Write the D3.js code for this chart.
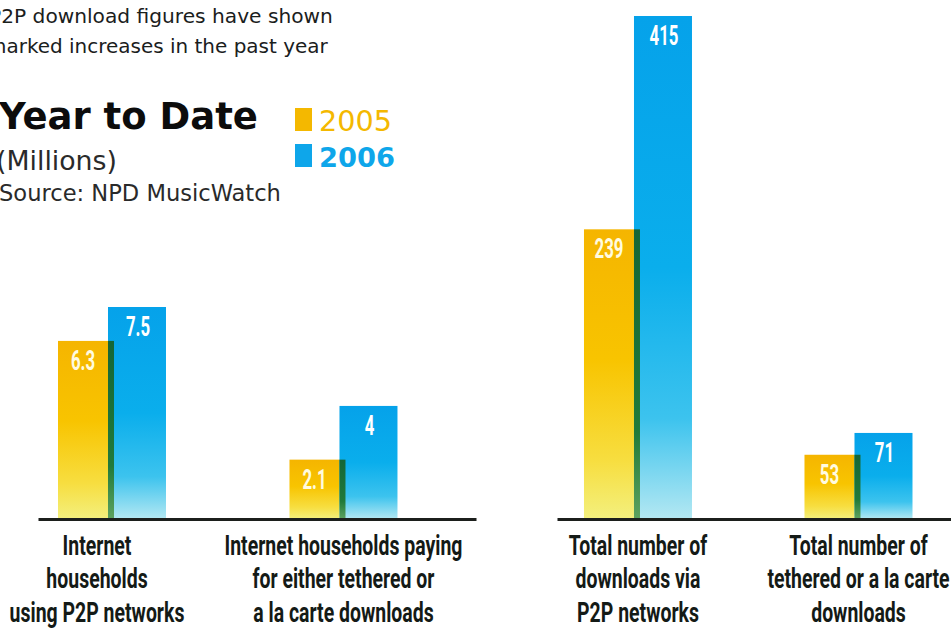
<!DOCTYPE html>
<html>
<head>
<meta charset="utf-8">
<script src="https://cdn.jsdelivr.net/npm/d3@7"></script>
<style>
  html, body { margin: 0; padding: 0; background: #fff; }
  svg { display: block; }
</style>
</head>
<body>
<svg id="chart" width="951" height="629"></svg>
<script>
// ---- data ----
const seriesNames = ["2005", "2006"];

const householdCategories = [
  "Internet\nhouseholds\nusing P2P networks",
  "Internet households paying\nfor either tethered or\na la carte downloads"
];
const households2005 = [6.3, 2.1];
const households2006 = [7.5, 4];

const downloadCategories = [
  "Total number of\ndownloads via\nP2P networks",
  "Total number of\ntethered or a la carte\ndownloads"
];
const downloads2005 = [239, 53];
const downloads2006 = [415, 71];

const introLines = ["P2P download figures have shown", "marked increases in the past year"];
const titleText = "Year to Date";
const unitText = "(Millions)";
const sourceText = "Source: NPD MusicWatch";

// ---- layout ----
const svg = d3.select("#chart");
const baseline = 519;
const narrowFace = "Roboto, 'Liberation Sans', sans-serif";   // squeezed horizontally below
const geometric = "'DejaVu Sans', 'Noto Sans', sans-serif";
const catSqueeze = 0.695;
const valSqueeze = 0.6;

const seriesColor = { "2005": "#f4b800", "2006": "#0ea6ea" };

// size a text so that it spans the given width
function fitWidth(sel, w) {
  const len = sel.node().getComputedTextLength();
  sel.attr("font-size", +sel.attr("font-size") * w / len);
  return sel;
}

// gradients for the bars
const defs = svg.append("defs");
function vGrad(id, stops) {
  const g = defs.append("linearGradient").attr("id", id)
    .attr("x1", 0).attr("y1", 0).attr("x2", 0).attr("y2", 1);
  stops.forEach(([o, c]) => g.append("stop").attr("offset", o).attr("stop-color", c));
}
vGrad("grad2005", [[0, "#f5b500"], [0.45, "#f8c400"], [0.8, "#f7de40"], [1, "#f3f07e"]]);
vGrad("grad2006", [[0, "#05a2ea"], [0.5, "#0aaeec"], [0.8, "#3cc3ee"], [1, "#b4e8f2"]]);
vGrad("gradOverlap", [[0, "#156636"], [0.7, "#217a3a"], [1, "#5da25f"]]);

const panels = [
  { categories: householdCategories, values: [households2005, households2006],
    xRange: [38, 476], paddingInner: 0.5335, paddingOuter: 0.2128, align: 0.203,
    topY: 307, labelNudge: [-15, 0] },
  { categories: downloadCategories, values: [downloads2005, downloads2006],
    xRange: [557, 951], paddingInner: 0.5102, paddingOuter: 0.1485, align: 0.412,
    topY: 16, labelNudge: [0, 0] }
];

panels.forEach(p => {
  const x = d3.scaleBand()
    .domain(p.categories)
    .range(p.xRange)
    .paddingInner(p.paddingInner)
    .paddingOuter(p.paddingOuter)
    .align(p.align);
  const xs = d3.scaleBand().domain(seriesNames).range([0, x.bandwidth()]);
  const maxVal = d3.max(p.values.flat());
  const y = d3.scaleLinear().domain([0, maxVal]).range([baseline, p.topY]);

  const rows = p.categories.map((c, i) => ({
    cat: c,
    v2005: p.values[0][i],
    v2006: p.values[1][i]
  }));

  const g = svg.append("g");
  const overlap = 4;

  const grp = g.selectAll("g.grp").data(rows).join("g")
    .attr("transform", d => `translate(${x(d.cat)},0)`);

  // 2005 bar (partly covered by the 2006 bar)
  grp.append("rect")
    .attr("x", xs("2005"))
    .attr("y", d => y(d.v2005))
    .attr("width", xs.bandwidth())
    .attr("height", d => baseline - y(d.v2005))
    .attr("fill", "url(#grad2005)");

  // 2006 bar
  grp.append("rect")
    .attr("x", xs("2006") - overlap)
    .attr("y", d => y(d.v2006))
    .attr("width", xs.bandwidth() + overlap)
    .attr("height", d => baseline - y(d.v2006))
    .attr("fill", "url(#grad2006)");

  // darker strip where the two bars meet
  grp.append("rect")
    .attr("x", xs("2006") - overlap)
    .attr("y", d => y(Math.min(d.v2005, d.v2006)))
    .attr("width", 6)
    .attr("height", d => baseline - y(Math.min(d.v2005, d.v2006)))
    .attr("fill", "url(#gradOverlap)");

  // value labels
  const valLabel = (sel, cx, key, color) => sel.append("text")
    .attr("transform", d => `translate(${cx},${y(d[key]) + 29}) scale(${valSqueeze},1)`)
    .attr("text-anchor", "middle")
    .attr("font-family", narrowFace)
    .attr("font-weight", "bold")
    .attr("font-size", 28)
    .attr("fill", color)
    .text(d => d[key]);

  valLabel(grp, xs("2005") + (xs.bandwidth() - overlap) / 2, "v2005", "#fffbe0");
  valLabel(grp, xs("2006") + xs.bandwidth() / 2 - 1, "v2006", "#ffffff");

  // axis line
  const axis = g.append("g")
    .attr("transform", `translate(0,${baseline})`)
    .call(d3.axisBottom(x).tickSize(0).tickSizeOuter(0).tickFormat(""));
  axis.select(".domain").attr("stroke", "#1c1f1c").attr("stroke-width", 3);

  // category labels (multi-line)
  const lbl = g.selectAll("text.cat").data(p.categories).join("text")
    .attr("class", "cat")
    .attr("text-anchor", "middle")
    .attr("font-family", narrowFace)
    .attr("font-weight", "bold")
    .attr("font-size", 28)
    .attr("fill", "#141a16")
    .attr("transform", (d, i) =>
      `translate(${x(d) + x.bandwidth() / 2 + p.labelNudge[i]},0) scale(${catSqueeze},1)`);
  lbl.each(function(d) {
    d3.select(this).selectAll("tspan").data(d.split("\n")).join("tspan")
      .attr("x", 0)
      .attr("y", (t, j) => 555 + j * 33.5)
      .text(t => t);
  });
});

// ---- headings ----
const introWidths = [344, 341];
svg.append("g").selectAll("text").data(introLines).join("text")
  .attr("x", (d, i) => i === 0 ? -11 : -13)
  .attr("y", (d, i) => 23 + i * 29.5)
  .attr("font-family", geometric)
  .attr("font-weight", 500)
  .attr("font-size", 18)
  .attr("fill", "#1a201c")
  .text(d => d)
  .each(function(d, i) { fitWidth(d3.select(this), introWidths[i]); });

fitWidth(svg.append("text")
  .attr("x", -1).attr("y", 129)
  .attr("font-family", geometric)
  .attr("font-weight", "bold")
  .attr("font-size", 39)
  .attr("fill", "#0c0c0c")
  .text(titleText), 259);

fitWidth(svg.append("text")
  .attr("x", -4).attr("y", 170)
  .attr("font-family", geometric)
  .attr("font-weight", 400)
  .attr("font-size", 26)
  .attr("fill", "#2a2a2a")
  .text(unitText), 121);

fitWidth(svg.append("text")
  .attr("x", -1).attr("y", 201)
  .attr("font-family", geometric)
  .attr("font-weight", 400)
  .attr("font-size", 20)
  .attr("fill", "#2a2a2a")
  .text(sourceText), 282);

// ---- legend ----
const legend = svg.append("g").selectAll("g").data(seriesNames).join("g")
  .attr("transform", (d, i) => `translate(295,${108 + i * 36})`);
legend.append("rect")
  .attr("width", 17).attr("height", 23)
  .attr("fill", d => seriesColor[d]);
legend.append("text")
  .attr("x", 24).attr("y", 23)
  .attr("font-family", geometric)
  .attr("font-weight", (d, i) => i === 0 ? 400 : 600)
  .attr("font-size", 30)
  .attr("fill", d => seriesColor[d])
  .text(d => d)
  .each(function(d, i) { fitWidth(d3.select(this), i === 0 ? 73 : 76); });
</script>
</body>
</html>
